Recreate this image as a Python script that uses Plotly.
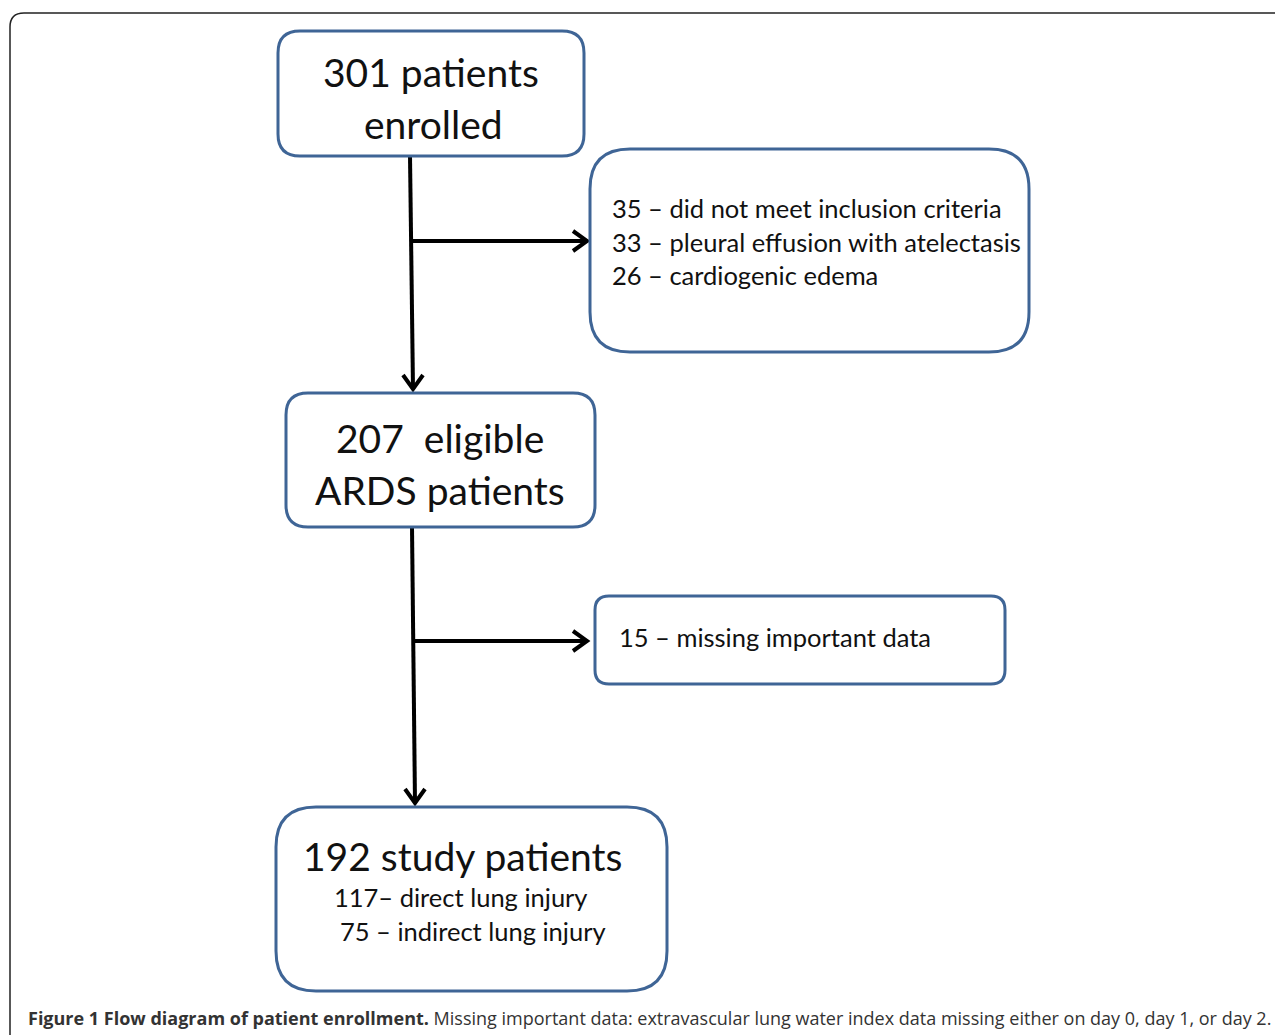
import plotly.graph_objects as go

# counts shown in the flow diagram
enrolled = 301
excluded_counts = [35, 33, 26]
excluded_reasons = ["did not meet inclusion criteria",
                    "pleural effusion with atelectasis",
                    "cardiogenic edema"]
eligible = 207
missing_count = 15
missing_reason = "missing important data"
study = 192
injury_counts = [117, 75]
injury_types = ["direct lung injury", "indirect lung injury"]

W, H = 1283, 1035
OFF = 8  # page body margin, so data coords == screen pixels
BLUE = "#3f6596"
BOX_FONT = "Lato, 'Open Sans', sans-serif"


def rounded_rect(x0, y0, x1, y1, r):
    # path in data coordinates (y axis reversed, so y0 is the top)
    return (f"M{x0 + r},{y0} L{x1 - r},{y0} Q{x1},{y0} {x1},{y0 + r} "
            f"L{x1},{y1 - r} Q{x1},{y1} {x1 - r},{y1} L{x0 + r},{y1} "
            f"Q{x0},{y1} {x0},{y1 - r} L{x0},{y0 + r} Q{x0},{y0} {x0 + r},{y0} Z")


def box(x0, y0, x1, y1, r=22):
    return dict(type="path", path=rounded_rect(x0, y0, x1, y1, r),
                line=dict(color=BLUE, width=3), fillcolor="white", layer="above")


def line(x0, y0, x1, y1):
    return dict(type="line", x0=x0, y0=y0, x1=x1, y1=y1,
                line=dict(color="black", width=4), layer="below")


def head_down(x, y):
    return dict(type="path", path=f"M{x - 10},{y - 14} L{x},{y} L{x + 10},{y - 14}",
                line=dict(color="black", width=4), layer="below")


def head_right(x, y):
    return dict(type="path", path=f"M{x - 14},{y - 10} L{x},{y} L{x - 14},{y + 10}",
                line=dict(color="black", width=4), layer="below")


shapes = [
    # outer frame
    dict(type="path", path=rounded_rect(10, 13, 1300, 1060, 14),
         line=dict(color="#222222", width=1.5)),
    # arrows
    line(410, 156, 413, 389), head_down(413, 389),
    line(413, 241, 587, 241), head_right(587, 241),
    line(412, 527, 415, 803), head_down(415, 803),
    line(413, 641, 587, 641), head_right(587, 641),
    # boxes
    box(278, 31, 584, 156),
    box(590, 149, 1029, 352, 40),
    box(286, 393, 595, 527),
    box(595, 596, 1005, 684, 14),
    box(276, 807, 667, 991, 40),
]


def txt(x, y, text, size, anchor="center", color="#111111", family=BOX_FONT):
    return dict(x=x, y=y, text=text, showarrow=False, xanchor=anchor,
                yanchor="middle", font=dict(size=size, color=color, family=family))


annotations = [
    txt(431, 72, f"{enrolled} patients", 39),
    txt(433, 124, "enrolled", 39),
    txt(440, 438, f"{eligible}  eligible", 39),
    txt(440, 490, "ARDS patients", 39),
    txt(617, 637, f"{missing_count} – {missing_reason}", 25.5, "left"),
    txt(462, 856, f"{study} study patients", 39),
    txt(332, 897, f"{injury_counts[0]}– {injury_types[0]}", 25.5, "left"),
    txt(338, 931, f"{injury_counts[1]} – {injury_types[1]}", 25.5, "left"),
]
for i, (n, reason) in enumerate(zip(excluded_counts, excluded_reasons)):
    annotations.append(txt(610, 208 + i * 33.5, f"{n} – {reason}", 25.5, "left"))

annotations.append(txt(
    26, 1018,
    "<b>Figure 1 Flow diagram of patient enrollment.</b> Missing important data: "
    "extravascular lung water index data missing either on day 0, day 1, or day 2.",
    18, "left", color="#333333", family="'Open Sans', sans-serif"))

fig = go.Figure()
fig.update_layout(
    width=W, height=H,
    margin=dict(l=0, r=0, t=0, b=0),
    paper_bgcolor="white", plot_bgcolor="white",
    xaxis=dict(range=[OFF, W + OFF], visible=False, fixedrange=True),
    yaxis=dict(range=[H + OFF, OFF], visible=False, fixedrange=True),
    shapes=shapes, annotations=annotations, showlegend=False,
)
fig.write_html("out.html")
